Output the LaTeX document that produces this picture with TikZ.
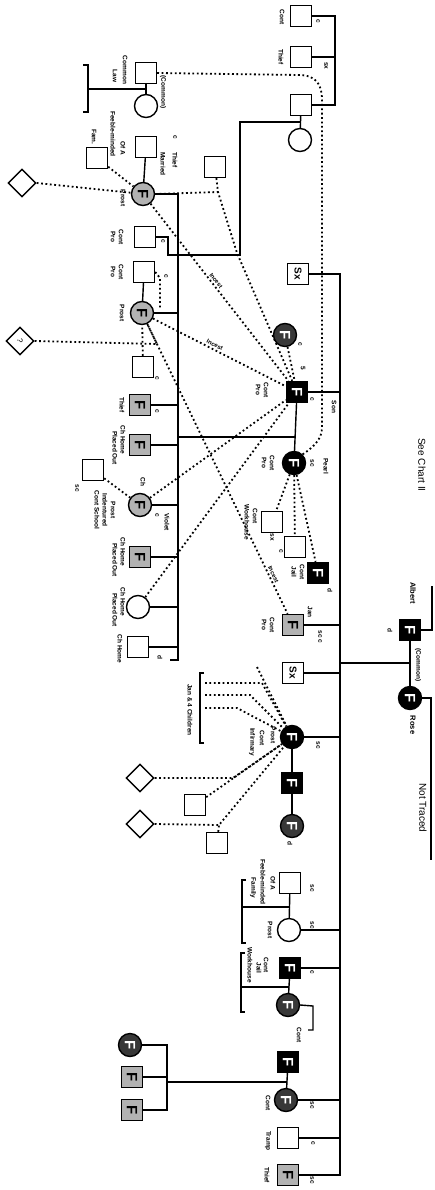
\documentclass[tikz,border=0pt]{standalone}
\usepackage{fontspec}
\setmainfont{Liberation Sans}
\usetikzlibrary{shapes.geometric}
\newcommand{\Fm}{\rotatebox[origin=c]{-90}{\fontsize{15}{15}\selectfont\bfseries F}}
\newcommand{\Sym}{\rotatebox[origin=c]{-90}{\fontsize{10}{10}\selectfont\bfseries Sx}}
\tikzset{
 base/.style={draw, line width=1.4pt, inner sep=0pt},
 sq/.style={base, rectangle, minimum size=21pt, fill=white},
 ci/.style={base, circle, minimum size=23pt, fill=white},
 dm/.style={base, diamond, minimum size=28pt, fill=white},
 fblack/.style={fill=black, text=white},
 fgray/.style={fill=gray!60, text=black},
 fdark/.style={fill=black!78, text=white},
 rel/.style={line width=1.4pt},
 dot/.style={line width=1.8pt, dash pattern=on 1.8pt off 2.6pt},
 lab/.style={rotate=-90, font=\fontsize{6.5}{6.5}\selectfont\bfseries, inner sep=0pt},
 big/.style={rotate=-90, font=\fontsize{7.5}{7.5}\selectfont\bfseries, inner sep=0pt},
 huge/.style={rotate=-90, font=\fontsize{10}{10}\selectfont, inner sep=0pt},
 inc/.style={sloped, above, inner sep=1.5pt, font=\fontsize{6}{6}\selectfont\bfseries},
}
\begin{document}
\begin{tikzpicture}[x=1pt,y=-1pt]
\useasboundingbox (0,0) rectangle (434,1190);
\fill[white] (0,0) rectangle (434,1190);

% ---------- nodes ----------
\node[sq] (a1) at (301,16) {};
\node[sq] (a2) at (301,57) {};
\node[sq] (a3) at (301,105) {};
\node[ci] (ca) at (300,140) {};
\node[sq] (b1) at (146,73) {};
\node[ci] (cb) at (146,106) {};
\node[sq] (c1) at (97,158) {};
\node[sq] (d1) at (146,147) {};
\node[ci,fgray] (fd) at (143,194) {\Fm};
\node[sq] (e1) at (215,167) {};
\node[dm] (dma) at (22,183) {};
\node[sq] (f1) at (145,237) {};
\node[sq] (g1) at (144,272) {};
\node[ci,fgray] (fg) at (142,313) {\Fm};
\node[dm] (dmb) at (20,341) {\rotatebox[origin=c]{-90}{\fontsize{8}{8}\selectfont ?}};
\node[sq] (h1) at (143,367) {};
\node[sq,fgray] (l1) at (140,405) {\Fm};
\node[sq,fgray] (l2) at (140,445) {\Fm};
\node[sq] (i1) at (93,470) {};
\node[ci,fgray] (l3) at (140,505) {\Fm};
\node[sq,fgray] (l4) at (140,557) {\Fm};
\node[ci] (l5) at (138,607) {};
\node[sq] (l6) at (138,647) {};
\node[sq] (s1) at (298,274) {\Sym};
\node[ci,fdark] (fsm) at (285,335) {\Fm};
\node[sq,fblack] (son) at (297,392) {\Fm};
\node[ci,fblack] (pearl) at (294,463) {\Fm};
\node[sq] (p1) at (272,522) {};
\node[sq] (p2) at (295,547) {};
\node[sq,fblack] (p3) at (318,573) {\Fm};
\node[sq,fgray] (jan) at (293,625) {\Fm};
\node[sq] (s2) at (293,673) {\Sym};
\node[ci,fblack] (m1) at (292,737) {\Fm};
\node[sq,fblack] (m2) at (292,783) {\Fm};
\node[ci,fdark] (m3) at (292,826) {\Fm};
\node[dm] (dmc) at (140,778) {};
\node[sq] (m4) at (195,805) {};
\node[dm] (dmd) at (140,824) {};
\node[sq] (m5) at (217,843) {};
\node[sq] (n1) at (290,883) {};
\node[ci] (n2) at (289,930) {};
\node[sq,fblack] (o1) at (290,968) {\Fm};
\node[ci,fdark] (o2) at (288,1005) {\Fm};
\node[sq,fblack] (q1) at (288,1062) {\Fm};
\node[ci,fdark] (q2) at (286,1100) {\Fm};
\node[sq] (r1) at (288,1138) {};
\node[sq,fgray] (t1) at (288,1175) {\Fm};
\node[ci,fdark] (u1) at (130,1045) {\Fm};
\node[sq,fgray] (u2) at (132,1077) {\Fm};
\node[sq,fgray] (u3) at (132,1110) {\Fm};
\node[sq,fblack] (alb) at (410,630) {\Fm};
\node[ci,fblack] (rose) at (410,698) {\Fm};

% ---------- coordinates ----------
\coordinate (ja) at (335,16);
\coordinate (jb) at (335,105);
\coordinate (ka) at (300,122);
\coordinate (kb) at (240,122);
\coordinate (kc) at (240,255);
\coordinate (kd) at (178,255);
\coordinate (kf1) at (168,237);
\coordinate (kf2) at (168,255);
\coordinate (bm) at (146,89);
\coordinate (bk) at (88,89);
\coordinate (lstop) at (178,194);
\coordinate (lsbot) at (178,660);
\coordinate (lshook) at (170,660);
\coordinate (sp) at (295,437);
\coordinate (rtop) at (340,274);
\coordinate (ar) at (410,663);
\coordinate (alb1) at (432,630);
\coordinate (alb2) at (432,586);
\coordinate (ros1) at (431,698);
\coordinate (ros2) at (431,860);
\coordinate (nm) at (290,907);
\coordinate (nb) at (242,907);
\coordinate (om) at (289,987);
\coordinate (ob) at (241,987);
\coordinate (oc1) at (313,1006);
\coordinate (oc2) at (313,1030);
\coordinate (oc3) at (308,1030);
\coordinate (qm) at (287,1082);
\coordinate (qb) at (167,1082);
\coordinate (ut) at (167,1045);
\coordinate (ub) at (167,1110);

% ---------- solid lines ----------
\draw[rel] (a1.east) -- (ja) -- (jb) -- (a3.east);
\draw[rel] (a2.east) -- (a2.east -| ja);
\draw[rel] (a3) -- (ca);
\draw[rel] (ka) -- (kb) -- (kc) -- (kd);
\draw[rel] (b1) -- (cb);
\draw[rel] (bm) -- (bk);
\draw[rel] (83,65) -- (88,65) -- (88,112) -- (83,112);
\draw[rel] (d1) -- (fd);
\draw[rel] (fd.east) -- (lstop) -- (lsbot) -- (lshook);
\draw[rel] (f1.east) -- (kf1) -- (kf2) -- (kd);
\draw[rel] (g1) -- (fg);
\draw[rel] (fg.east) -- (fg.east -| lstop);
\foreach \n in {l1,l2,l3,l4,l5,l6} \draw[rel] (\n.east) -- (\n.east -| lstop);
\draw[rel] (son) -- (pearl);
\draw[rel] (sp) -- (sp -| lstop);
\draw[rel] (s1.east) -- (s1.east -| rtop) -- (t1.east -| rtop) -- (t1.east);
\foreach \n in {son,jan,s2,m1,n2,o1,q2,r1} \draw[rel] (\n.east) -- (\n.east -| rtop);
\draw[rel] (alb) -- (rose);
\draw[rel] (ar) -- (ar -| rtop);
\draw[rel] (alb.east) -- (alb1) -- (alb2);
\draw[rel] (rose.east) -- (ros1) -- (ros2);
\draw[rel] (m1) -- (m2) -- (m3);
\draw[rel] (n1) -- (n2);
\draw[rel] (nm) -- (nb);
\draw[rel] (246,880) -- (242,880) -- (242,943) -- (246,943);
\draw[rel] (o1) -- (o2);
\draw[rel] (om) -- (ob);
\draw[rel] (245,953) -- (241,953) -- (241,1012) -- (245,1012);
\draw[rel] (o2.east) -- (oc1) -- (oc2) -- (oc3);
\draw[rel] (q1) -- (q2);
\draw[rel] (qm) -- (qb);
\draw[rel] (u1.east) -- (ut) -- (ub) -- (u3.east);
\draw[rel] (u2.east) -- (u2.east -| ut);
\draw[rel] (204,673) -- (200,673) -- (200,743) -- (204,743);

% ---------- dotted lines ----------
\draw[dot] (b1.east) -- (298,75) .. controls (316,75) and (322,84) .. (322,100) -- (322,428) .. controls (322,440) and (312,448) .. (pearl.north east);
\draw[dot] (c1) -- (fd);
\draw[dot] (dma.east) -- (fd);
\coordinate (e2) at (218,192);
\coordinate (e3) at (237,253);
\draw[dot] (e1) -- (e2) -- (e3) -- (son);
\draw[dot] (fd.east) -- (e2);
\draw[dot] (fd) -- node[inc, pos=0.45] {Incest} (son);
\draw[dot] (fg) -- node[inc, pos=0.45] {Incest} (son);
\coordinate (g2) at (157,344);
\draw[dot] (dmb.east) -- (g2) -- (fg);
\draw[dot] (h1) -- (fg);
\draw[dot] (fg) -- node[inc, pos=0.87] {Incest} (jan);
\coordinate (g3) at (160,278);
\coordinate (g4) at (160,309);
\draw[dot] (g1.east) -- (g3) -- (g4);
\draw[dot] (i1) -- (l3);
\draw[dot] (l3) -- (son);
\draw[dot] (l5) -- (son);
\draw[dot] (fsm) -- (son);
\draw[dot] (pearl) -- (p1);
\draw[dot] (pearl) -- (p2);
\draw[dot] (pearl) -- (p3);
\coordinate (j1) at (205,683); \coordinate (j1b) at (262,683);
\coordinate (j2) at (205,695); \coordinate (j2b) at (250,695);
\coordinate (j3) at (205,708); \coordinate (j3b) at (237,708);
\coordinate (j4) at (257,667);
\draw[dot] (j1) -- (j1b) -- (m1);
\draw[dot] (j2) -- (j2b) -- (m1);
\draw[dot] (j3) -- (j3b) -- (m1);
\draw[dot] (j4) -- (m1);
\coordinate (dc2) at (233,778);
\draw[dot] (dmc.east) -- (dc2) -- (m1);
\draw[dot] (m4) -- (m1);
\coordinate (dd2) at (219,825);
\draw[dot] (dmd.east) -- (dd2) -- (m1);
\draw[dot] (m5) -- (dd2);

% ---------- labels ----------
\node[lab] at (282,17) {Cont};
\node[lab] at (318,21) {c};
\node[lab] at (281,57) {Thief};
\node[lab] at (326,66) {sx};
\node[lab] at (125,70) {Common};
\node[lab] at (115,76) {Law};
\node[lab] at (163,92) {(Common)};
\node[lab] at (123,148) {Of A};
\node[lab] at (113,134) {Feeble-minded};
\node[lab] at (94,137) {Fam.};
\node[lab] at (175,137) {c};
\node[lab] at (175,160) {Thief};
\node[lab] at (163,164) {Married};
\node[lab] at (123,198) {Prost};
\node[lab] at (121,237) {Cont};
\node[lab] at (113,237) {Pro};
\node[lab] at (163,241) {c};
\node[lab] at (121,272) {Cont};
\node[lab] at (113,272) {Pro};
\node[lab] at (166,276) {c};
\node[lab] at (122,313) {Prost};
\node[lab] at (157,378) {c};
\node[lab] at (122,405) {Thief};
\node[lab] at (157,411) {c};
\node[lab] at (123,440) {Ch Home};
\node[lab] at (115,448) {Placed Out};
\node[lab] at (77,488) {sc};
\node[lab] at (143,482) {Ch};
\node[lab] at (113,510) {Prost};
\node[lab] at (105,510) {Indentured};
\node[lab] at (97,510) {Cont School};
\node[lab] at (157,515) {c};
\node[lab] at (167,522) {Violet};
\node[lab] at (123,552) {Ch Home};
\node[lab] at (115,560) {Placed Out};
\node[lab] at (123,602) {Ch Home};
\node[lab] at (115,610) {Placed Out};
\node[lab] at (120,649) {Ch Home};
\node[lab] at (160,657) {d};
\node[lab] at (300,344) {c};
\node[lab] at (303,368) {5};
\node[lab] at (266,390) {Cont};
\node[lab] at (258,390) {Pro};
\node[lab] at (312,399) {c};
\node[lab] at (334,407) {Son};
\node[lab] at (272,463) {Cont};
\node[lab] at (264,463) {Pro};
\node[lab] at (312,463) {sc};
\node[lab] at (326,466) {Pearl};
\node[lab] at (255,516) {Cont};
\node[lab] at (247,522) {Workhouse};
\node[lab] at (272,537) {sx};
\node[lab] at (281,551) {c};
\node[lab] at (302,572) {Cont};
\node[lab] at (294,572) {Jail};
\node[lab] at (330,590) {d};
\node[lab] at (310,612) {Jan};
\node[lab] at (272,625) {Cont};
\node[lab] at (264,625) {Pro};
\node[lab] at (320,637) {sc c};
\node[lab] at (273,735) {Prost};
\node[lab] at (262,738) {Cont};
\node[lab] at (252,742) {Infirmary};
\node[lab] at (318,745) {sc};
\node[lab] at (190,710) {Jan \& 4 Children};
\node[lab] at (290,843) {d};
\node[lab] at (273,883) {Of A};
\node[lab] at (263,882) {Feeble-minded};
\node[lab] at (253,888) {Family};
\node[lab] at (312,888) {sc};
\node[lab] at (270,930) {Prost};
\node[lab] at (312,925) {sc};
\node[lab] at (266,965) {Cont};
\node[lab] at (259,968) {Jail};
\node[lab] at (250,965) {Workhouse};
\node[lab] at (312,972) {c};
\node[lab] at (299,1035) {Cont};
\node[lab] at (268,1103) {Cont};
\node[lab] at (312,1105) {sc};
\node[lab] at (268,1141) {Tramp};
\node[lab] at (313,1143) {c};
\node[lab] at (267,1175) {Thief};
\node[lab] at (312,1180) {sc};
\node[big] at (413,593) {Albert};
\node[lab] at (390,630) {d};
\node[lab] at (418,665) {(Common)};
\node[big] at (413,725) {Rose};
\node[huge] at (423,808) {Not Traced};
\node[huge] at (422,465) {See Chart II};
\end{tikzpicture}
\end{document}
